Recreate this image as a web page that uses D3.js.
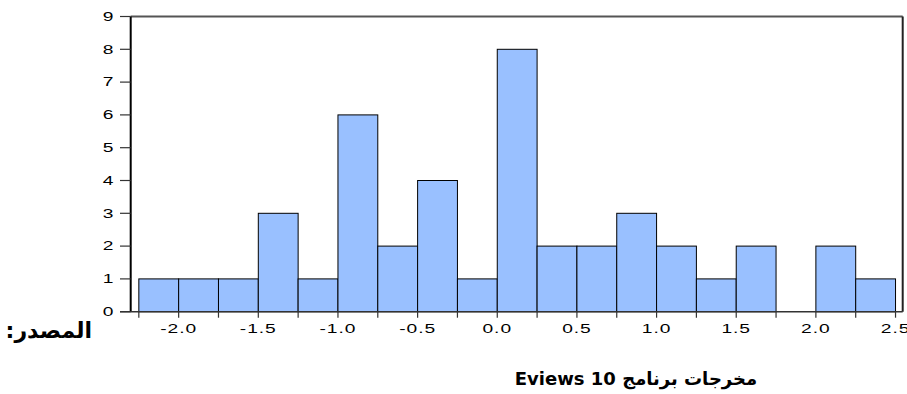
<!DOCTYPE html>
<html><head><meta charset="utf-8">
<script src="https://cdn.jsdelivr.net/npm/d3@7"></script>
<style>body{margin:0;background:#fff}svg{display:block}</style>
</head><body><svg id="c" width="907" height="394"></svg>
<script>
const binStarts = [-2.25,-2.0,-1.75,-1.5,-1.25,-1.0,-0.75,-0.5,-0.25,0.0,0.25,0.5,0.75,1.0,1.25,1.5,1.75,2.0,2.25];
const counts    = [1,1,1,3,1,6,2,4,1,8,2,2,3,2,1,2,0,2,1];
const binWidth = 0.25;
const xTickLabels = ["-2.0","-1.5","-1.0","-0.5","0.0","0.5","1.0","1.5","2.0","2.5"];
const yTicks = [0,1,2,3,4,5,6,7,8,9];
const sourceLabel = "المصدر:";
const caption = "مخرجات برنامج Eviews 10";

const svg = d3.select("#c");
const x = d3.scaleLinear().domain([-2.301, 2.545]).range([130.7, 902.7]);
const y = d3.scaleLinear().domain([0, 9]).range([311.7, 16.5]);
const SX = 1.6;
const numFont = "'Liberation Sans', Arial, Helvetica, sans-serif";

// bars
svg.append("g").selectAll("rect").data(binStarts).join("rect")
  .attr("x", (d)=>x(d))
  .attr("width", (d)=>x(d+binWidth)-x(d))
  .attr("y", (d,i)=>y(counts[i]))
  .attr("height", (d,i)=>y(0)-y(counts[i]))
  .attr("fill", "#99c0ff")
  .attr("stroke", "#000")
  .attr("stroke-width", 1)
  .attr("display", (d,i)=>counts[i]>0?null:"none");

// frame
svg.append("line").attr("x1", x.range()[0]).attr("x2", x.range()[1]).attr("y1", y(9)).attr("y2", y(9)).attr("stroke","#555").attr("stroke-width",2);
svg.append("line").attr("x1", x.range()[1]).attr("x2", x.range()[1]).attr("y1", y(9)).attr("y2", y(0)).attr("stroke","#222").attr("stroke-width",2);
svg.append("line").attr("x1", x.range()[0]).attr("x2", x.range()[0]).attr("y1", y(9)).attr("y2", y(0)).attr("stroke","#000").attr("stroke-width",2);
svg.append("line").attr("x1", 120).attr("x2", x.range()[1]).attr("y1", y(0)).attr("y2", y(0)).attr("stroke","#333").attr("stroke-width",1.5);

// y ticks
const yg = svg.append("g");
yTicks.forEach(t=>{
  yg.append("line").attr("x1",120).attr("x2",x.range()[0]).attr("y1",y(t)).attr("y2",y(t)).attr("stroke","#333").attr("stroke-width",1.2);
  yg.append("text").attr("transform",`translate(113.5,${y(t)+4.3}) scale(${SX},1)`)
    .attr("text-anchor","end").attr("font-family",numFont).attr("font-size",12).attr("fill","#000").text(t);
});

// x ticks
const xg = svg.append("g");
const edges = binStarts.concat([binStarts[binStarts.length-1]+binWidth]);
edges.forEach(t=>{
  xg.append("line").attr("x1",x(t)).attr("x2",x(t)).attr("y1",y(0)).attr("y2",y(0)+6).attr("stroke","#333").attr("stroke-width",1.2);
});
xTickLabels.forEach(t=>{
  xg.append("text").attr("transform",`translate(${x(+t)},332.5) scale(${SX},1)`)
    .attr("text-anchor","middle").attr("font-family",numFont).attr("font-size",12)
    .attr("letter-spacing",0.6).attr("fill","#000").text(t);
});

// arabic labels
svg.append("text").attr("x",92).attr("y",338).attr("text-anchor","start")
  .attr("direction","rtl")
  .attr("font-family","'DejaVu Sans', sans-serif").attr("font-weight","bold").attr("font-size",22)
  .text(sourceLabel);
svg.append("text").attr("x",636).attr("y",385).attr("text-anchor","middle")
  .attr("direction","rtl")
  .attr("font-family","'DejaVu Sans', sans-serif").attr("font-weight","bold").attr("font-size",18)
  .text(caption);
</script></body></html>
